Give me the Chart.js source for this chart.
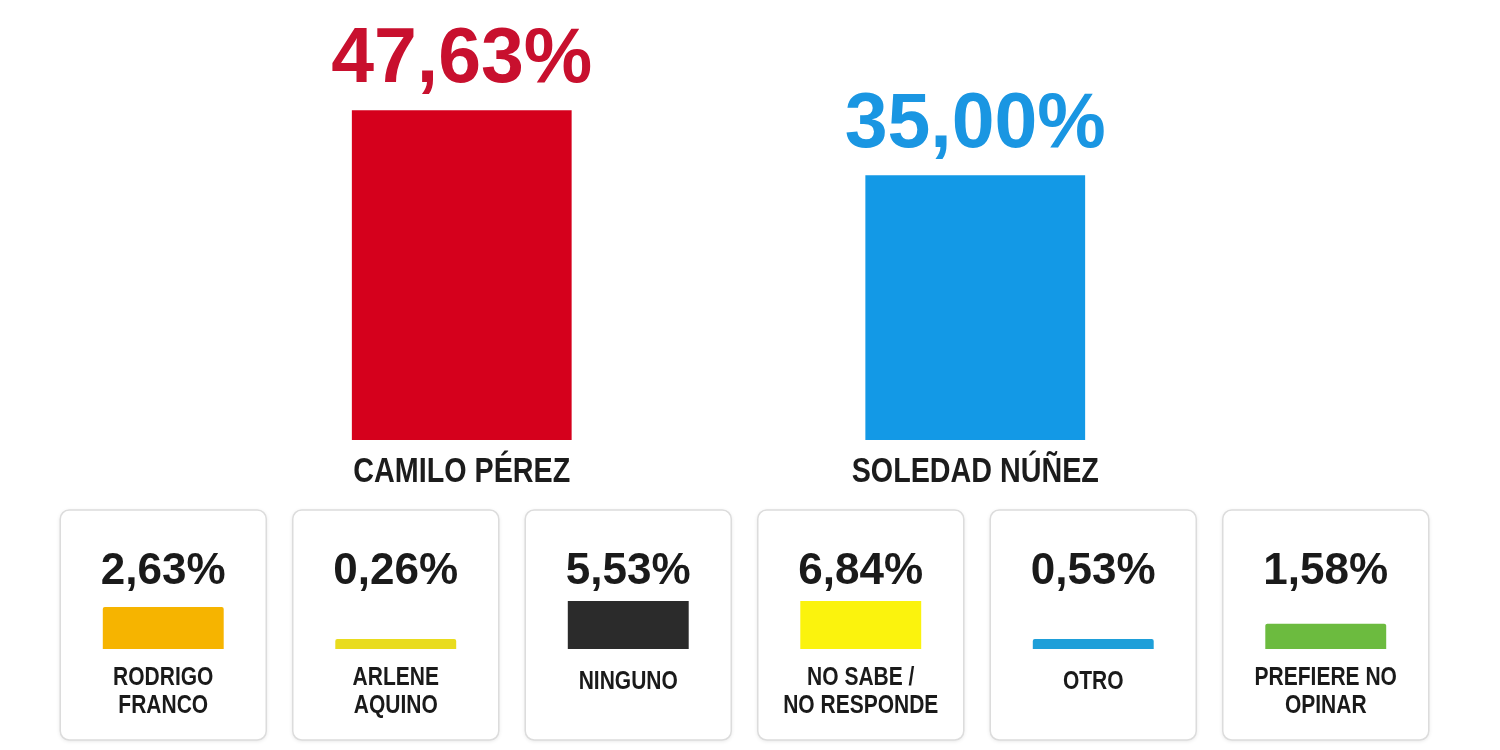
<!DOCTYPE html>
<html lang="es">
<head>
<meta charset="utf-8">
<title>Encuesta</title>
<script src="https://cdn.jsdelivr.net/npm/chart.js@4/dist/chart.umd.min.js"></script>
<style>
    body { margin: 0; background: #fff; }
    #top-wrap { position: absolute; left: 0; top: 0; width: 1500px; height: 500px; }
    #bottom-wrap { position: absolute; left: 0; top: 500px; width: 1500px; height: 250px; }
</style>
</head>
<body>
<div id="top-wrap"><canvas id="main-chart"></canvas></div>
<div id="bottom-wrap"><canvas id="others-chart"></canvas></div>
<script>
const candidates = ["CAMILO PÉREZ", "SOLEDAD NÚÑEZ"];
const candidateValues = [47.63, 35.00];
const candidateColors = ["#d5001c", "#1399e6"];
const candidateTextColors = ["#c8102e", "#1a96e2"];

const otherLabels = [["RODRIGO", "FRANCO"], ["ARLENE", "AQUINO"], ["NINGUNO"], ["NO SABE /", "NO RESPONDE"], ["OTRO"], ["PREFIERE NO", "OPINAR"]];
const otherValues = [2.63, 0.26, 5.53, 6.84, 0.53, 1.58];
const otherColors = ["#f6b400", "#e9dc1e", "#2b2b2b", "#fbf30d", "#1e9fd9", "#6cbb3f"];

const fmt = v => v.toFixed(2).replace(".", ",") + "%";

// no narrow font installed, so squeeze the text horizontally
function narrowText(ctx, text, x, y, sx) {
    ctx.save();
    ctx.translate(x, y);
    ctx.scale(sx, 1);
    ctx.fillText(text, 0, 0);
    ctx.restore();
}

document.addEventListener("DOMContentLoaded", () => {
    // top: the two main candidates
    const mainLabels = {
        id: "mainLabels",
        afterDatasetsDraw(chart) {
            const ctx = chart.ctx;
            const bars = chart.getDatasetMeta(0).data;
            ctx.save();
            ctx.textAlign = "center";
            ctx.textBaseline = "alphabetic";
            bars.forEach((bar, i) => {
                ctx.fillStyle = candidateTextColors[i];
                ctx.font = "bold 77px 'Liberation Sans', Arial, sans-serif";
                ctx.fillText(fmt(candidateValues[i]), bar.x, bar.y - 28);
                ctx.fillStyle = "#1c1c1c";
                ctx.font = "bold 35px 'Liberation Sans', Arial, sans-serif";
                narrowText(ctx, candidates[i], bar.x, bar.base + 42, 0.82);
            });
            ctx.restore();
        }
    };

    new Chart(document.getElementById("main-chart"), {
        type: "bar",
        data: {
            labels: candidates,
            datasets: [{
                data: candidateValues,
                backgroundColor: candidateColors,
                base: -16.5,
                barPercentage: 0.428,
                categoryPercentage: 1
            }]
        },
        options: {
            responsive: true,
            maintainAspectRatio: false,
            animation: false,
            layout: { padding: { top: 98, bottom: 60, left: 205, right: 268 } },
            plugins: { legend: { display: false }, tooltip: { enabled: false } },
            scales: {
                x: { display: false },
                y: { display: false, min: -16.5, max: 50 }
            }
        },
        plugins: [mainLabels]
    });

    // bottom: the rest, one card each
    const cards = {
        id: "cards",
        beforeDatasetsDraw(chart) {
            const ctx = chart.ctx;
            const x = chart.scales.x;
            ctx.save();
            otherValues.forEach((v, i) => {
                const cx = x.getPixelForValue(i);
                ctx.beginPath();
                ctx.roundRect(cx - 103, 10, 206, 230, 9);
                ctx.shadowColor = "rgba(0,0,0,0.12)";
                ctx.shadowBlur = 4;
                ctx.shadowOffsetY = 1;
                ctx.fillStyle = "#fff";
                ctx.fill();
                ctx.shadowColor = "transparent";
                ctx.strokeStyle = "#dcdcdc";
                ctx.lineWidth = 1.5;
                ctx.stroke();
            });
            ctx.restore();
        },
        afterDatasetsDraw(chart) {
            const ctx = chart.ctx;
            const x = chart.scales.x;
            ctx.save();
            ctx.textAlign = "center";
            ctx.textBaseline = "alphabetic";
            ctx.fillStyle = "#1a1a1a";
            otherValues.forEach((v, i) => {
                const cx = x.getPixelForValue(i);
                ctx.font = "bold 44px 'Liberation Sans', Arial, sans-serif";
                ctx.fillText(fmt(v), cx, 84);
                ctx.font = "bold 25px 'Liberation Sans', Arial, sans-serif";
                const lines = otherLabels[i];
                const y0 = lines.length === 1 ? 189 : 185;
                lines.forEach((line, j) => narrowText(ctx, line, cx, y0 + j * 28, 0.84));
            });
            ctx.restore();
        }
    };

    new Chart(document.getElementById("others-chart"), {
        type: "bar",
        data: {
            labels: otherLabels.map(l => l.join(" ")),
            datasets: [{
                data: otherValues,
                backgroundColor: otherColors,
                barPercentage: 0.52,
                categoryPercentage: 1,
                minBarLength: 10,
                borderRadius: 2
            }]
        },
        options: {
            responsive: true,
            maintainAspectRatio: false,
            animation: false,
            layout: { padding: { top: 101, bottom: 101, left: 47, right: 58 } },
            plugins: { legend: { display: false }, tooltip: { enabled: false } },
            scales: {
                x: { display: false },
                y: { display: false, min: 0, max: 3 }
            }
        },
        plugins: [cards]
    });
});
</script>
</body>
</html>
